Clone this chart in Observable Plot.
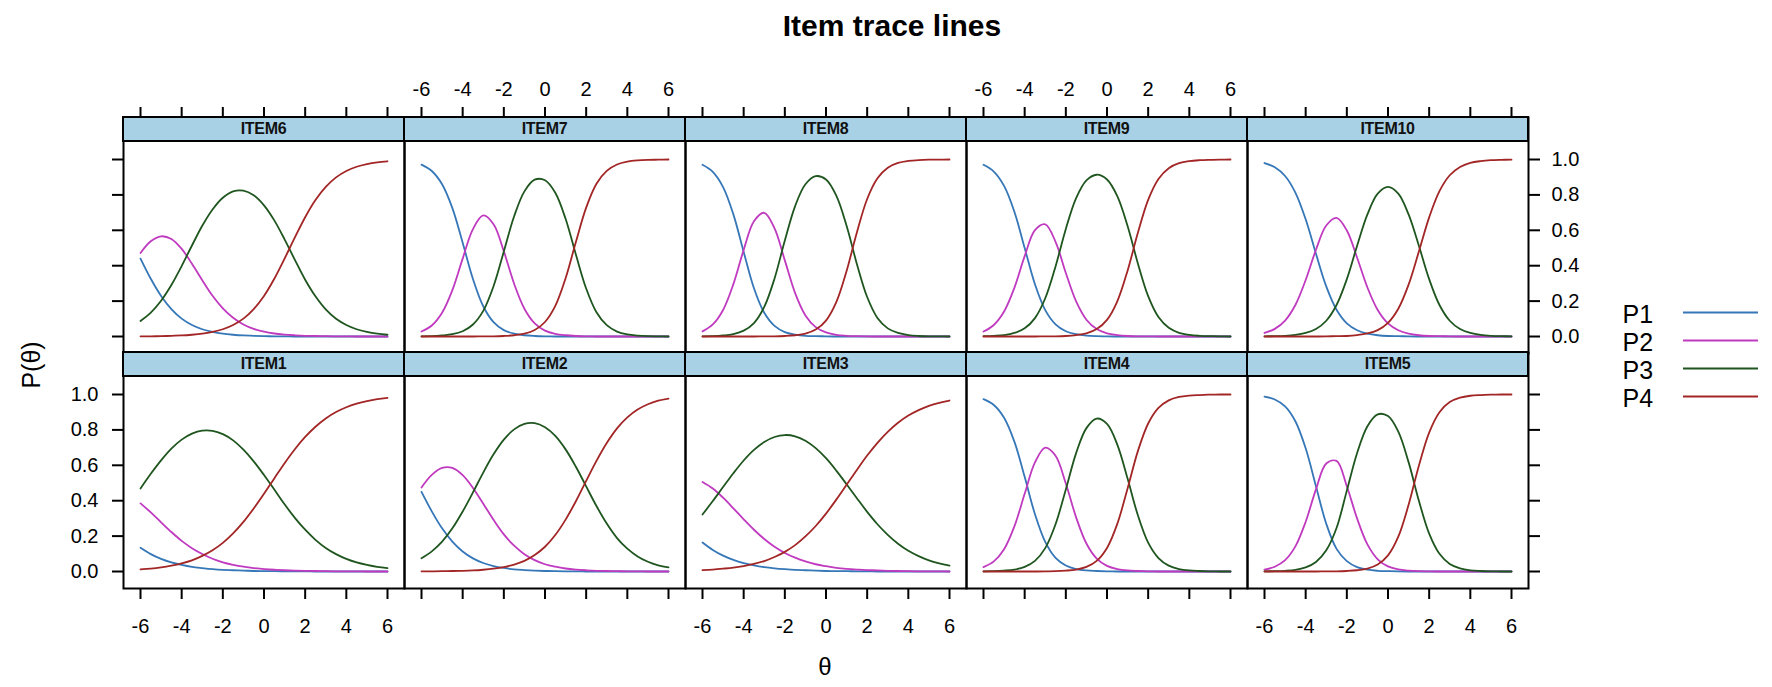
<!DOCTYPE html>
<html>
<head>
<meta charset="utf-8">
<script src="https://cdn.jsdelivr.net/npm/d3@7"></script>
<script src="https://cdn.jsdelivr.net/npm/@observablehq/plot@0.6"></script>
<style>
  html, body { margin: 0; padding: 0; background: #fff; }
  #chart { position: relative; width: 1772px; height: 687px; overflow: hidden;
           font-family: "Liberation Sans", Arial, Helvetica, sans-serif; color: #000; background: #fff; }
  .abs { position: absolute; white-space: nowrap; }
  .strip { position: absolute; box-sizing: border-box; background: #a9d1e6; border: 2px solid #000;
           font-weight: bold; font-size: 16px; text-align: center; line-height: 22px; color: #111;
           letter-spacing: -0.3px; }
</style>
</head>
<body>
<div id="chart"></div>
<script>
// ---------------- data ----------------
const theta = [-6,-5.5,-5,-4.5,-4,-3.5,-3,-2.5,-2,-1.5,-1,-0.5,0,0.5,1,1.5,2,2.5,3,3.5,4,4.5,5,5.5,6];
const categories = ["P1", "P2", "P3", "P4"];
const topRow = ["ITEM6", "ITEM7", "ITEM8", "ITEM9", "ITEM10"];
const bottomRow = ["ITEM1", "ITEM2", "ITEM3", "ITEM4", "ITEM5"];
const xTicks = [-6, -4, -2, 0, 2, 4, 6];
const yTicks = [0, 0.2, 0.4, 0.6, 0.8, 1.0];

const ITEM1 = [
  [.134,.098,.071,.051,.037,.026,.019,.013,.009,.007,.005,.003,.002,.002,.001,.001,.001,0,0,0,0,0,0,0,0],
  [.385,.334,.278,.223,.173,.132,.099,.072,.052,.038,.027,.019,.014,.010,.007,.005,.004,.003,.002,.001,.001,.001,0,0,0],
  [.469,.552,.628,.694,.745,.779,.796,.795,.776,.741,.688,.622,.545,.463,.380,.303,.236,.179,.133,.098,.071,.051,.037,.026,.019],
  [.012,.016,.023,.033,.046,.063,.088,.120,.162,.215,.280,.356,.439,.526,.612,.691,.760,.818,.865,.901,.928,.948,.963,.974,.981]
];
const ITEM2 = [
  [.450,.340,.244,.169,.113,.074,.048,.031,.020,.012,.008,.005,.003,.002,.001,.001,0,0,0,0,0,0,0,0,0],
  [.475,.546,.585,.585,.544,.472,.383,.292,.210,.146,.098,.064,.041,.027,.017,.011,.007,.004,.003,.002,.001,.001,0,0,0],
  [.075,.114,.169,.244,.339,.447,.559,.662,.745,.803,.834,.838,.815,.766,.690,.592,.481,.370,.271,.189,.129,.085,.055,.035,.023],
  [.001,.001,.002,.003,.004,.006,.010,.016,.025,.039,.060,.093,.140,.206,.293,.397,.512,.625,.726,.809,.871,.915,.945,.965,.977]
];
const ITEM3 = [
  [.164,.122,.090,.066,.048,.035,.025,.018,.013,.009,.007,.005,.003,.002,.002,.001,.001,0,0,0,0,0,0,0,0],
  [.506,.469,.417,.357,.295,.236,.184,.140,.105,.078,.057,.041,.030,.021,.015,.011,.008,.006,.004,.003,.002,.001,.001,.001,0],
  [.322,.398,.477,.555,.627,.687,.732,.760,.771,.764,.739,.697,.640,.570,.493,.414,.337,.267,.207,.157,.117,.087,.063,.046,.033],
  [.008,.011,.016,.022,.031,.043,.059,.082,.111,.149,.198,.257,.327,.406,.490,.574,.655,.727,.789,.840,.881,.912,.936,.953,.966]
];
const ITEM4 = [
  [.974,.941,.869,.734,.535,.324,.167,.077,.034,.014,.006,.003,.001,0,0,0,0,0,0,0,0,0,0,0,0],
  [.025,.057,.126,.255,.439,.616,.700,.654,.497,.306,.158,.073,.032,.014,.006,.003,.001,0,0,0,0,0,0,0,0],
  [.001,.002,.005,.011,.026,.060,.132,.267,.464,.669,.810,.864,.834,.717,.525,.318,.163,.076,.033,.014,.006,.003,.001,0,0],
  [0,0,0,0,0,0,.001,.002,.005,.011,.026,.060,.133,.269,.469,.680,.836,.924,.967,.986,.994,.997,.999,1,1]
];
const ITEM5 = [
  [.988,.972,.933,.849,.696,.482,.270,.128,.059,.025,.010,.004,.002,.001,0,0,0,0,0,0,0,0,0,0,0],
  [.011,.027,.064,.142,.281,.464,.610,.625,.482,.299,.153,.069,.029,.012,.005,.002,.001,0,0,0,0,0,0,0,0],
  [.001,.002,.004,.009,.023,.054,.120,.246,.457,.670,.821,.888,.878,.790,.618,.400,.214,.100,.043,.018,.007,.003,.001,0,0],
  [0,0,0,0,0,0,.001,.001,.003,.007,.016,.039,.091,.197,.377,.598,.785,.900,.957,.982,.993,.997,.999,1,1]
];
const ITEM6 = [
  [.440,.326,.229,.155,.101,.065,.041,.026,.016,.010,.006,.004,.002,.001,.001,0,0,0,0,0,0,0,0,0,0],
  [.472,.538,.566,.551,.495,.411,.318,.230,.159,.106,.068,.043,.027,.017,.011,.007,.004,.003,.002,.001,.001,0,0,0,0],
  [.088,.135,.202,.291,.398,.514,.626,.718,.784,.820,.824,.798,.741,.656,.549,.433,.321,.227,.153,.100,.065,.041,.026,.016,.010],
  [.001,.001,.002,.004,.006,.010,.016,.026,.041,.065,.101,.155,.229,.326,.440,.560,.674,.771,.845,.899,.935,.959,.974,.984,.990]
];
const ITEM7 = [
  [.971,.935,.860,.725,.530,.325,.171,.081,.036,.016,.007,.003,.001,0,0,0,0,0,0,0,0,0,0,0,0],
  [.028,.062,.134,.262,.440,.607,.684,.634,.481,.298,.157,.074,.033,.015,.007,.003,.001,0,0,0,0,0,0,0,0],
  [.001,.002,.006,.013,.030,.068,.145,.284,.480,.679,.820,.886,.883,.812,.665,.463,.271,.137,.064,.028,.012,.005,.002,.001,0],
  [0,0,0,0,0,0,.001,.001,.003,.007,.016,.037,.082,.173,.329,.534,.728,.863,.936,.972,.988,.995,.998,.999,1]
];
const ITEM8 = [
  [.970,.930,.844,.690,.478,.273,.134,.060,.025,.011,.004,.002,.001,0,0,0,0,0,0,0,0,0,0,0,0],
  [.029,.068,.150,.296,.489,.651,.699,.611,.430,.245,.119,.053,.023,.009,.004,.002,.001,0,0,0,0,0,0,0,0],
  [.001,.002,.006,.014,.033,.076,.167,.328,.542,.737,.860,.906,.887,.796,.626,.410,.223,.105,.046,.020,.008,.003,.001,.001,0],
  [0,0,0,0,0,0,.001,.001,.003,.007,.016,.039,.090,.194,.370,.588,.777,.894,.954,.981,.992,.997,.999,.999,1]
];
const ITEM9 = [
  [.970,.932,.851,.705,.500,.295,.149,.069,.030,.013,.005,.002,.001,0,0,0,0,0,0,0,0,0,0,0,0],
  [.028,.065,.141,.275,.454,.601,.634,.535,.359,.198,.095,.042,.018,.008,.003,.001,.001,0,0,0,0,0,0,0,0],
  [.002,.004,.008,.020,.046,.104,.216,.396,.608,.782,.882,.914,.887,.793,.624,.413,.228,.110,.049,.021,.009,.004,.002,.001,0],
  [0,0,0,0,0,0,.001,.001,.003,.008,.018,.042,.094,.199,.372,.586,.772,.890,.951,.979,.991,.996,.998,.999,1]
];
const ITEM10 = [
  [.980,.956,.907,.813,.662,.468,.283,.151,.074,.035,.016,.007,.003,.002,.001,0,0,0,0,0,0,0,0,0,0],
  [.020,.043,.090,.178,.319,.490,.627,.670,.599,.445,.277,.150,.074,.035,.016,.007,.003,.002,.001,0,0,0,0,0,0],
  [.001,.002,.004,.009,.020,.042,.089,.178,.324,.513,.690,.807,.845,.807,.690,.513,.324,.178,.089,.042,.020,.009,.004,.002,.001],
  [0,0,0,0,0,0,.001,.002,.003,.008,.017,.036,.077,.157,.293,.480,.673,.821,.911,.958,.981,.991,.996,.998,.999]
];

const itemData = {ITEM1, ITEM2, ITEM3, ITEM4, ITEM5, ITEM6, ITEM7, ITEM8, ITEM9, ITEM10};

// ---------------- styles / layout ----------------
const colors = ["#3677b8", "#c03ac0", "#1f561f", "#a32626"];
const FONT = '"Liberation Sans", Arial, Helvetica, sans-serif';
const PW = 281;                 // panel width
const STRIP = 24;               // strip height
const PH = 236;                 // strip + plotting region height
const colLeft = [123, 404, 685, 966, 1247];
const stripTop = [117, 352];
const M = {l: 70, r: 70, t: 50, b: 60};
const xDomain = [-6.826, 6.826];
const yDomain = [-0.096, 1.2373];   // upper part holds the strip
const fmtY = d3.format(".1f");
const blank = () => "";

const chart = document.getElementById("chart");

function add(el) { chart.appendChild(el); return el; }

function makePanel(name, row, col) {
  const vals = itemData[name];
  const rows = [];
  categories.forEach((c, k) => theta.forEach((t, i) => rows.push({theta: t, p: vals[k][i], cat: c})));
  const marks = [
    Plot.line(rows, {x: "theta", y: "p", z: "cat", stroke: "cat", curve: "catmull-rom", strokeWidth: 1.8}),
    Plot.frame({stroke: "#000", strokeWidth: 2})
  ];
  if (row === 0) {
    marks.push(Plot.axisX({ticks: xTicks, anchor: "top", tickSize: 11, tickPadding: 11, strokeWidth: 2,
      tickFormat: (col === 1 || col === 3) ? (d => String(d)) : blank, label: null}));
  } else {
    marks.push(Plot.axisX({ticks: xTicks, anchor: "bottom", tickSize: 11, tickPadding: 19, strokeWidth: 2,
      tickFormat: (col % 2 === 0) ? (d => String(d)) : blank, label: null}));
  }
  if (col === 0) {
    marks.push(Plot.axisY({ticks: yTicks, anchor: "left", tickSize: 11, tickPadding: 14, strokeWidth: 2,
      tickFormat: row === 1 ? fmtY : blank, label: null}));
  }
  if (col === 4) {
    marks.push(Plot.axisY({ticks: yTicks, anchor: "right", tickSize: 11, tickPadding: 12, strokeWidth: 2,
      tickFormat: row === 0 ? fmtY : blank, label: null}));
  }
  const svg = Plot.plot({
    width: PW + M.l + M.r,
    height: PH + M.t + M.b,
    marginLeft: M.l, marginRight: M.r, marginTop: M.t, marginBottom: M.b,
    x: {domain: xDomain, axis: null},
    y: {domain: yDomain, axis: null},
    color: {domain: categories, range: colors},
    style: {background: "transparent", overflow: "visible", fontFamily: FONT, fontSize: "20px", color: "#000"},
    marks
  });
  svg.style.position = "absolute";
  svg.style.left = (colLeft[col] - M.l) + "px";
  svg.style.top = (stripTop[row] - M.t) + "px";
  svg.style.maxWidth = "none";
  add(svg);

  const strip = document.createElement("div");
  strip.className = "strip";
  strip.style.left = (colLeft[col] - 1) + "px";
  strip.style.top = (stripTop[row] - 1) + "px";
  strip.style.width = (PW + 2) + "px";
  strip.style.height = (STRIP + 2) + "px";
  strip.textContent = name;
  add(strip);
}

topRow.forEach((n, c) => makePanel(n, 0, c));
bottomRow.forEach((n, c) => makePanel(n, 1, c));

// title
const title = document.createElement("div");
title.className = "abs";
title.textContent = "Item trace lines";
Object.assign(title.style, {left: "892px", top: "11px", transform: "translateX(-50%)",
  fontSize: "30px", lineHeight: "30px", fontWeight: "bold"});
add(title);

// axis labels
const xl = document.createElement("div");
xl.className = "abs";
xl.textContent = "θ";
Object.assign(xl.style, {left: "825px", top: "667px", transform: "translate(-50%,-50%)",
  fontSize: "24px", lineHeight: "24px"});
add(xl);

const yl = document.createElement("div");
yl.className = "abs";
yl.textContent = "P(θ)";
Object.assign(yl.style, {left: "31px", top: "365px", transform: "translate(-50%,-50%) rotate(-90deg)",
  fontSize: "25px", lineHeight: "25px"});
add(yl);

// legend
const legend = Plot.plot({
  width: 155, height: 124,
  marginLeft: 70, marginRight: 10, marginTop: 20, marginBottom: 20,
  y: {type: "point", domain: categories, padding: 0, axis: null},
  color: {domain: categories, range: colors},
  style: {background: "transparent", overflow: "visible", fontFamily: FONT, color: "#000"},
  marks: [
    Plot.ruleY(categories, {y: d => d, stroke: d => d, strokeWidth: 2}),
    Plot.text(categories, {y: d => d, text: d => d, frameAnchor: "left", textAnchor: "start",
      dx: -61, dy: 2, fontSize: 25, fill: "#000"})
  ]
});
legend.style.position = "absolute";
legend.style.left = "1613px";
legend.style.top = "292px";
legend.style.maxWidth = "none";
add(legend);
</script>
</body>
</html>
